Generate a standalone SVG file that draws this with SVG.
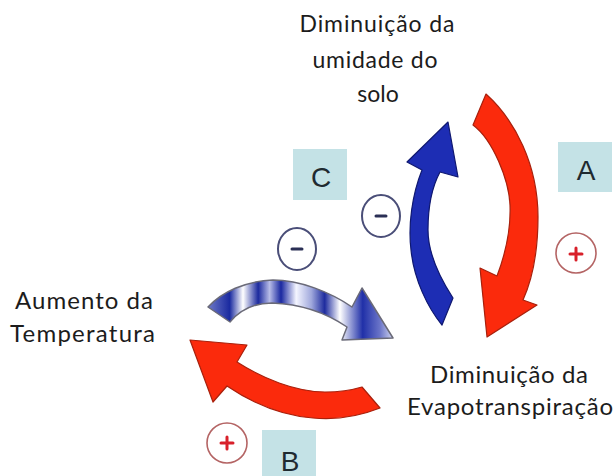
<svg xmlns="http://www.w3.org/2000/svg" width="616" height="476" viewBox="0 0 616 476">
<defs>
<style>
.lbl{font-family:Lato,"Open Sans","Liberation Sans",sans-serif;font-size:23px;fill:#1c1c1c}
.lbl2{font-family:Lato,"Open Sans","Liberation Sans",sans-serif;font-size:24px;fill:#1c1c1c}
.box{fill:#c4e2e6}
.boxt{font-family:"Liberation Sans",Arial,sans-serif;font-size:28px;fill:#1f2a30;text-anchor:middle}
.red{fill:#fb2a0c;stroke:#a8200c;stroke-width:1.2;stroke-linejoin:round}
.blue{fill:#1d2db4;stroke:#0f1870;stroke-width:1.2;stroke-linejoin:round}
.stripe{fill:url(#stripes);stroke:#6a6a78;stroke-width:1.5;stroke-linejoin:round}
.minus-c{fill:#fff;stroke:#4a4e78;stroke-width:2}
.plus-c{fill:#fff;stroke:#b46464;stroke-width:1.6}
.minus{stroke:#2a2f55;stroke-width:3;stroke-linecap:round}
.plus{stroke:#d8202a;stroke-width:3;stroke-linecap:round}
</style>
<linearGradient id="stripes" gradientUnits="userSpaceOnUse" x1="205" y1="0" x2="395" y2="0">
<stop offset="0" stop-color="#7a84cc"/>
<stop offset="0.13" stop-color="#1a2aa0"/>
<stop offset="0.2" stop-color="#ffffff"/>
<stop offset="0.28" stop-color="#1c2a9e"/>
<stop offset="0.34" stop-color="#b8bde8"/>
<stop offset="0.4" stop-color="#1a28a0"/>
<stop offset="0.48" stop-color="#f4f5ff"/>
<stop offset="0.56" stop-color="#a0a8dc"/>
<stop offset="0.63" stop-color="#1e2c9e"/>
<stop offset="0.71" stop-color="#ffffff"/>
<stop offset="0.83" stop-color="#2030a8"/>
<stop offset="0.92" stop-color="#6a74c8"/>
<stop offset="1" stop-color="#e0e4f6"/>
</linearGradient>
</defs>
<rect width="616" height="476" fill="#ffffff"/>

<g id="connectors">
<path id="arrow-A" class="red" d="M486 94 C515 120 538 165 538 217 C538 250 532 280 523 300 L537 305 L487 337 L480 268 L497 276 C505 255 511 230 510 205 C509 180 493 140 473 125 Z"/>
<path id="arrow-blue" class="blue" d="M453 298 C438 275 428 250 428 230 C428 205 433 185 440 172 L458 177 L448 122 L407 162 L422 170 C412 195 408 225 411 250 C414 280 428 308 442 325 Z"/>
<path id="arrow-C" class="stripe" d="M208 307 C222 292 245 281 273 280 C300 280 330 292 352 307 L362 288 L393 338 L342 340 L347 327 C325 312 300 304 272 303 C255 303 240 310 230 322 Z"/>
<path id="arrow-B" class="red" d="M190 340 L247 345 L237 362 C262 378 295 392 325 392 C340 392 352 390 362 387 L380 408 C360 416 335 420 313 418 C285 416 255 405 227 386 L213 402 Z"/>
</g>

<g id="node-umidade">
<text class="lbl" x="377" y="32" text-anchor="middle" textLength="155" lengthAdjust="spacing">Diminuição da</text>
<text class="lbl" x="375" y="68" text-anchor="middle" textLength="125" lengthAdjust="spacing">umidade do</text>
<text class="lbl" x="378" y="102" text-anchor="middle">solo</text>
</g>

<g id="node-temperatura">
<text class="lbl2" x="15" y="309" textLength="138" lengthAdjust="spacing">Aumento da</text>
<text class="lbl2" x="10" y="342" textLength="145" lengthAdjust="spacing">Temperatura</text>
</g>

<g id="node-evapotranspiracao">
<text class="lbl2" x="430" y="383" textLength="158" lengthAdjust="spacing">Diminuição da</text>
<text class="lbl2" x="407" y="415" textLength="206" lengthAdjust="spacing">Evapotranspiração</text>
</g>

<g id="label-A">
<rect class="box" x="558" y="142" width="54" height="50"/>
<text class="boxt" x="586" y="180">A</text>
</g>
<g id="label-B">
<rect class="box" x="262" y="430" width="54" height="46"/>
<text class="boxt" x="290" y="471">B</text>
</g>
<g id="label-C">
<rect class="box" x="293" y="149" width="54" height="51"/>
<text class="boxt" x="321" y="187">C</text>
</g>

<g id="sign-minus-1">
<ellipse class="minus-c" cx="381" cy="216" rx="19" ry="21"/>
<line class="minus" x1="376" y1="216" x2="386" y2="216"/>
</g>
<g id="sign-minus-2">
<ellipse class="minus-c" cx="297" cy="249" rx="19" ry="21"/>
<line class="minus" x1="292" y1="249" x2="302" y2="249"/>
</g>
<g id="sign-plus-A">
<circle class="plus-c" cx="576" cy="253" r="20"/>
<line class="plus" x1="570" y1="254" x2="582" y2="254"/>
<line class="plus" x1="576" y1="248" x2="576" y2="260"/>
</g>
<g id="sign-plus-B">
<circle class="plus-c" cx="227" cy="443" r="20"/>
<line class="plus" x1="221" y1="443" x2="233" y2="443"/>
<line class="plus" x1="227" y1="437" x2="227" y2="449"/>
</g>
</svg>
